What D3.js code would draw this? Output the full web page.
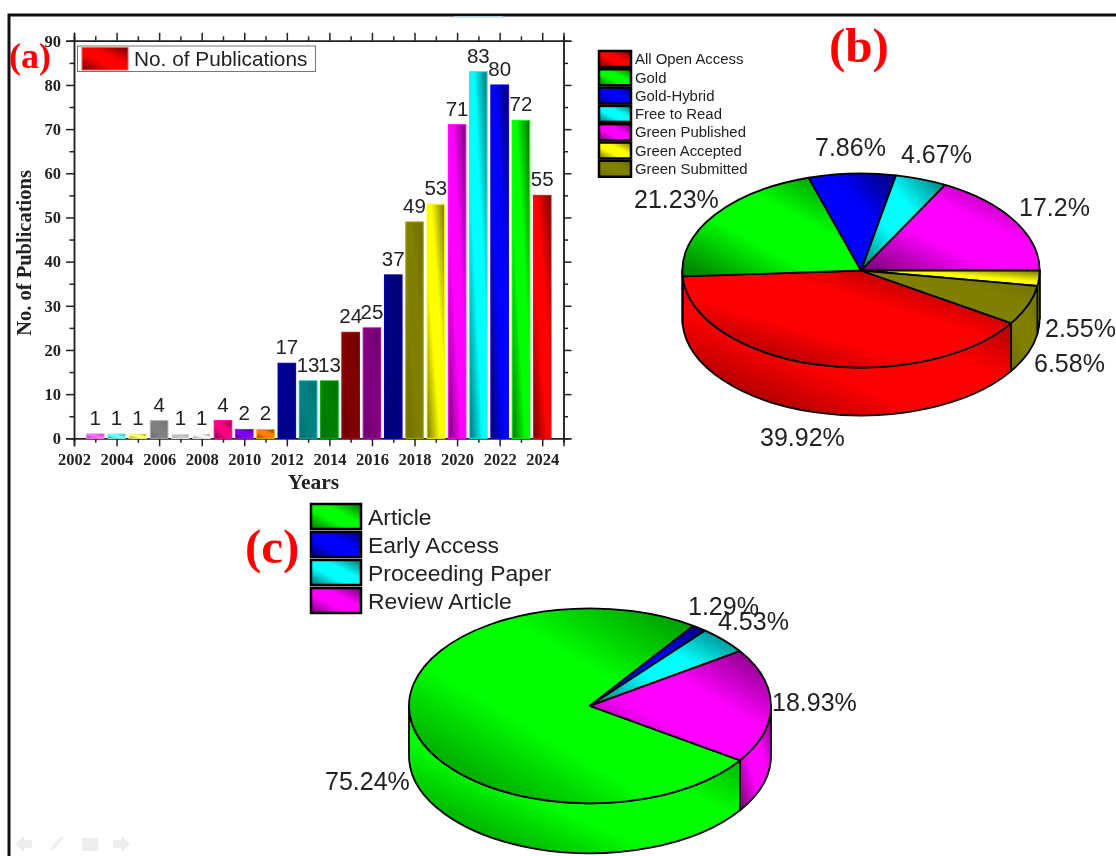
<!DOCTYPE html>
<html>
<head>
<meta charset="utf-8">
<script src="https://cdnjs.cloudflare.com/ajax/libs/d3/7.8.5/d3.min.js"></script>
<style>
  html, body { margin: 0; padding: 0; background: #fff; overflow: hidden; }
  svg { display: block; filter: blur(0.45px); }
  .sans { font-family: "Liberation Sans", Arial, sans-serif; fill: #222; }
  .serif { font-family: "Liberation Serif", "Times New Roman", serif; font-weight: bold; fill: #222; }
  .panel { font-family: "Liberation Serif", "Times New Roman", serif; font-weight: bold; fill: #f00; }
</style>
</head>
<body>
<div id="chart"></div>
<script>
// panel (a) data
const years = [2003, 2004, 2005, 2006, 2007, 2008, 2009, 2010, 2011, 2012, 2013, 2014, 2015, 2016, 2017, 2018, 2019, 2020, 2021, 2022, 2023, 2024];
const publications = [1, 1, 1, 4, 1, 1, 4, 2, 2, 17, 13, 13, 24, 25, 37, 49, 53, 71, 83, 80, 72, 55];
const barColors = ["#ff66ff", "#66ffff", "#ffff66", "#808080", "#c0c0c0", "#f2f2f2", "#ff0080", "#8000ff", "#ff8000", "#000090", "#008080", "#008000", "#800000", "#800080", "#000080", "#808000", "#ffff00", "#ff00ff", "#00ffff", "#0000ff", "#00ff00", "#ff0000"];
const yearTicks = [2002, 2004, 2006, 2008, 2010, 2012, 2014, 2016, 2018, 2020, 2022, 2024];
const yearMinorTicks = [2003, 2005, 2007, 2009, 2011, 2013, 2015, 2017, 2019, 2021, 2023, 2025];
const countTicks = [0, 10, 20, 30, 40, 50, 60, 70, 80, 90];
const countMinorTicks = [5, 15, 25, 35, 45, 55, 65, 75, 85];

// panel (b) data
const accessNames = ["All Open Access", "Gold", "Gold-Hybrid", "Free to Read", "Green Published", "Green Accepted", "Green Submitted"];
const accessValues = [39.92, 21.23, 7.86, 4.67, 17.2, 2.55, 6.58];
const accessColors = ["#ff0000", "#00ff00", "#0000ff", "#00ffff", "#ff00ff", "#ffff00", "#808000"];

// panel (c) data
const docNames = ["Article", "Early Access", "Proceeding Paper", "Review Article"];
const docValues = [75.24, 1.29, 4.53, 18.93];
const docColors = ["#00ff00", "#0000ff", "#00ffff", "#ff00ff"];

// hand placed percent labels, same order as the values
const accessLabelPos = [[760, 446], [634, 208], [815, 156], [901, 163], [1019, 216], [1045, 337], [1034, 372]];
const docLabelPos = [[325, 790], [688, 615], [718, 630], [772, 711]];

const svg = d3.select("#chart").append("svg")
  .attr("width", 1116)
  .attr("height", 856);
const defs = svg.append("defs");

// diagonal dark-bright-dark fill, one per colour
function shade(color) {
  const id = "g" + color.slice(1);
  if (defs.select("#" + id).empty()) {
    const c = d3.color(color);
    const k = Math.max(c.r, c.g, c.b) > 200 ? 0.45 : 0.85;
    const dark = d3.rgb(c.r * k, c.g * k, c.b * k).formatHex();
    const grad = defs.append("linearGradient").attr("id", id)
      .attr("x1", 0).attr("y1", 1).attr("x2", 1).attr("y2", 0);
    [[0, dark], [0.38, color], [0.62, color], [1, dark]].forEach(function (s) {
      grad.append("stop").attr("offset", s[0]).attr("stop-color", s[1]);
    });
  }
  return "url(#" + id + ")";
}

// slide frame
svg.append("path").attr("d", "M9,856V15H1116").attr("fill", "none").attr("stroke", "#111").attr("stroke-width", 3);
svg.append("line").attr("x1", 454).attr("x2", 503).attr("y1", 17).attr("y2", 17).attr("stroke", "#bcdcf2").attr("stroke-width", 1.5);

// faint slide show buttons
const nav = svg.append("g").attr("fill", "#ededed");
nav.append("path").attr("d", "M15,844L24,836V840H32V848H24V852Z");
nav.append("path").attr("d", "M50,851L52,846L62,836L64,838L54,849Z");
nav.append("rect").attr("x", 82).attr("y", 838).attr("width", 16).attr("height", 13).attr("rx", 1);
nav.append("path").attr("d", "M130,844L121,836V840H113V848H121V852Z");

// ---------- (a) bars ----------
const x = d3.scaleLinear().domain([2002, 2025]).range([74, 563.5]);
const y = d3.scaleLinear().domain([0, 90]).range([438.3, 40.8]);
const barWidth = 17.6;

const fmtYear = d3.format("d");
function axis(gen, ticks, size, labels, at, pad) {
  const g = svg.append("g")
    .attr("transform", at)
    .call(gen.tickValues(ticks).tickSize(size).tickPadding(pad || 4).tickFormat(labels ? fmtYear : ""));
  g.selectAll("line").attr("stroke", "#222").attr("stroke-width", 1.5);
  g.select(".domain").attr("stroke", "#222").attr("stroke-width", 1.5);
  g.selectAll("text").attr("class", "serif").style("font-size", "16.5px");
  return g;
}
axis(d3.axisBottom(x), yearTicks, 8, true, "translate(0,438.3)", 7);
axis(d3.axisBottom(x), yearMinorTicks, 4.5, false, "translate(0,438.3)");
axis(d3.axisTop(x), yearTicks, 8, false, "translate(0,40.8)");
axis(d3.axisTop(x), yearMinorTicks, 4.5, false, "translate(0,40.8)");
axis(d3.axisLeft(y), countTicks, 8, true, "translate(74,0)", 5);
axis(d3.axisLeft(y), countMinorTicks, 4.5, false, "translate(74,0)");
axis(d3.axisRight(y), countTicks, 8, false, "translate(563.5,0)");
axis(d3.axisRight(y), countMinorTicks, 4.5, false, "translate(563.5,0)");

svg.append("g").selectAll("rect")
  .data(years)
  .join("rect")
  .attr("x", function (d) { return x(d) - barWidth / 2; })
  .attr("y", function (d, i) { return y(publications[i]); })
  .attr("width", barWidth)
  .attr("height", function (d, i) { return y(0) - y(publications[i]); })
  .attr("fill", function (d, i) { return shade(barColors[i]); })
  .attr("stroke", function (d, i) { return d3.color(barColors[i]).brighter(0.9).formatHex(); })
  .attr("stroke-width", 1);

svg.append("g").selectAll("text")
  .data(years)
  .join("text")
  .attr("class", "sans")
  .attr("x", function (d) { return x(d); })
  .attr("y", function (d, i) { return y(publications[i]) - 9; })
  .attr("text-anchor", "middle")
  .style("font-size", "20.5px")
  .text(function (d, i) { return publications[i]; });

svg.append("text").attr("class", "serif")
  .attr("x", 313.5).attr("y", 489)
  .attr("text-anchor", "middle")
  .style("font-size", "21.5px")
  .text("Years");
svg.append("text").attr("class", "serif")
  .attr("transform", "translate(31,253) rotate(-90)")
  .attr("text-anchor", "middle")
  .style("font-size", "20.5px")
  .text("No. of Publications");

svg.append("rect").attr("x", 77.5).attr("y", 46).attr("width", 238).attr("height", 25.5)
  .attr("fill", "#fff").attr("stroke", "#777").attr("stroke-width", 1);
svg.append("rect").attr("x", 82).attr("y", 47.5).attr("width", 46).attr("height", 22.5)
  .attr("fill", shade("#ff0000")).attr("stroke", "#ff5555").attr("stroke-width", 1);
svg.append("text").attr("class", "sans").attr("x", 134).attr("y", 65.5)
  .style("font-size", "20.8px").text("No. of Publications");

svg.append("text").attr("class", "panel").attr("x", 9).attr("y", 68).style("font-size", "36px").text("(a)");
svg.append("text").attr("class", "panel").attr("x", 829).attr("y", 62).style("font-size", "49px").text("(b)");
svg.append("text").attr("class", "panel").attr("x", 245).attr("y", 563).style("font-size", "49px").text("(c)");

// ---------- (b) and (c) 3D pies ----------
function drawPie(values, colors, cx, cy, rx, ry, depth, start) {
  const slices = d3.pie().sort(null).startAngle(start).endAngle(start + 2 * Math.PI)(values);
  const px = function (a) { return cx + rx * Math.sin(a); };
  const py = function (a) { return cy - ry * Math.cos(a); };

  // wall pieces: only the part of a slice on the front half of the rim
  const walls = [];
  slices.forEach(function (s, i) {
    [0, 2 * Math.PI].forEach(function (turn) {
      const a0 = Math.max(s.startAngle, Math.PI / 2 + turn);
      const a1 = Math.min(s.endAngle, 3 * Math.PI / 2 + turn);
      if (a1 > a0) walls.push({ a0: a0, a1: a1, color: colors[i] });
    });
  });
  const g = svg.append("g");
  g.selectAll("path.wall")
    .data(walls)
    .join("path")
    .attr("class", "wall")
    .attr("d", function (w) {
      return "M" + px(w.a0) + "," + py(w.a0)
        + "A" + rx + "," + ry + " 0 0 1 " + px(w.a1) + "," + py(w.a1)
        + "v" + depth
        + "A" + rx + "," + ry + " 0 0 0 " + px(w.a0) + "," + (py(w.a0) + depth) + "Z";
    })
    .attr("fill", function (w) { return shade(w.color); })
    .attr("stroke", "#000")
    .attr("stroke-width", 1.8)
    .attr("stroke-linejoin", "round");

  // top face is a d3 arc squashed into an ellipse
  const arc = d3.arc().innerRadius(0).outerRadius(rx);
  g.append("g")
    .attr("transform", "translate(" + cx + "," + cy + ") scale(1," + (ry / rx) + ")")
    .selectAll("path")
    .data(slices)
    .join("path")
    .attr("d", arc)
    .attr("fill", function (d, i) { return shade(colors[i]); })
    .attr("stroke", "#000")
    .attr("stroke-width", 1.8)
    .attr("stroke-linejoin", "round")
    .attr("vector-effect", "non-scaling-stroke");
}

function drawPercents(values, pos) {
  svg.append("g").selectAll("text")
    .data(values)
    .join("text")
    .attr("class", "sans")
    .attr("x", function (d, i) { return pos[i][0]; })
    .attr("y", function (d, i) { return pos[i][1]; })
    .style("font-size", "25px")
    .text(function (d) { return d + "%"; });
}

function drawLegend(names, colors, left, top, w, h, step, textX, size, strokeW) {
  const g = svg.append("g");
  g.selectAll("rect")
    .data(names)
    .join("rect")
    .attr("x", left)
    .attr("y", function (d, i) { return top + i * step; })
    .attr("width", w)
    .attr("height", h)
    .attr("fill", function (d, i) { return shade(colors[i]); })
    .attr("stroke", "#000")
    .attr("stroke-width", strokeW);
  g.selectAll("text")
    .data(names)
    .join("text")
    .attr("class", "sans")
    .attr("x", textX)
    .attr("y", function (d, i) { return top + i * step + h / 2; })
    .attr("dy", "0.35em")
    .style("font-size", size + "px")
    .text(function (d) { return d; });
}

drawPie(accessValues, accessColors, 861, 270.5, 178.7, 97, 48, 2.1445);
drawPercents(accessValues, accessLabelPos);
drawLegend(accessNames, accessColors, 599, 51, 32, 16, 18.3, 635, 14.9, 2.5);

drawPie(docValues, docColors, 590, 705.8, 181, 97.5, 50, 2.164);
drawPercents(docValues, docLabelPos);
drawLegend(docNames, docColors, 311, 504, 50, 25, 28, 368, 22.9, 2.5);
</script>
</body>
</html>
